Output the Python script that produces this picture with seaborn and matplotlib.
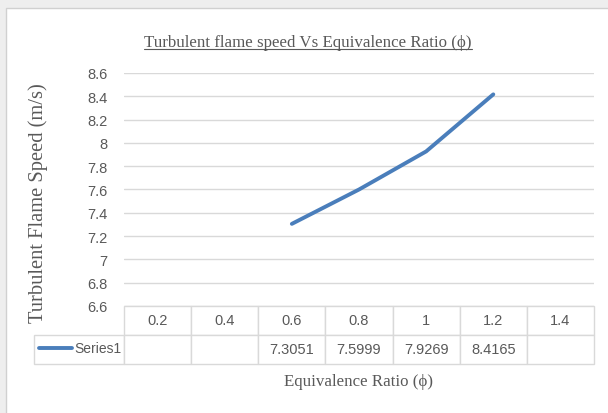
import matplotlib
matplotlib.use("Agg")
import matplotlib.pyplot as plt
from matplotlib.patches import Rectangle
from matplotlib.lines import Line2D
from matplotlib.table import Table
import seaborn as sns
import pandas as pd

# data
categories = ["0.2", "0.4", "0.6", "0.8", "1", "1.2", "1.4"]
x_vals = ["0.6", "0.8", "1", "1.2"]
speeds = [7.3051, 7.5999, 7.9269, 8.4165]
value_labels = ["7.3051", "7.5999", "7.9269", "8.4165"]
series_name = "Series1"
y_ticks = [6.6, 6.8, 7.0, 7.2, 7.4, 7.6, 7.8, 8.0, 8.2, 8.4, 8.6]
y_tick_labels = ["6.6", "6.8", "7", "7.2", "7.4", "7.6", "7.8", "8", "8.2", "8.4", "8.6"]

sns.set_theme(style="white")
sans = ["Liberation Sans Narrow", "Liberation Sans", "DejaVu Sans"]
serif = ["Liberation Serif", "DejaVu Serif"]
plt.rcParams["font.family"] = sans

grey = "#595959"
line_col = "#4a7ebb"
grid_col = "#d9d9d9"

W, H = 608, 414
fig = plt.figure(figsize=(W / 100, H / 100), dpi=100, facecolor="#eeeeee")

# chart frame
fig.patches.append(Rectangle((6 / W, -0.01), 1.02, 1 - 9 / H + 0.01,
                             transform=fig.transFigure, facecolor="white",
                             edgecolor="#d0d0d0", linewidth=1, zorder=-5))

ax = fig.add_axes([124 / W, 1 - 307 / H, 470 / W, 233 / H])
ax.set_facecolor("none")

df = pd.DataFrame({
    "x": [categories.index(c) for c in x_vals],
    "speed": speeds,
})
sns.lineplot(data=df, x="x", y="speed", ax=ax, color=line_col,
             linewidth=2.8, solid_capstyle="round", zorder=3)

ax.set_xlim(-0.5, len(categories) - 0.5)
ax.set_ylim(y_ticks[0], y_ticks[-1])
ax.set_yticks(y_ticks)
ax.set_yticklabels(y_tick_labels, color=grey, fontsize=10.5)
ax.set_xticks([])
ax.tick_params(axis="y", length=0, pad=12)
ax.yaxis.grid(True, color=grid_col, linewidth=1)
for s in ax.spines.values():
    s.set_visible(False)
ax.set_xlabel("")
ax.set_ylabel("")

# data table below the plot
tbl_h = 58 / 233
table = Table(ax, bbox=[0, -tbl_h, 1, tbl_h])
cw = 1 / len(categories)
for j, c in enumerate(categories):
    cell = table.add_cell(0, j, width=cw, height=0.5, text=c, loc="center")
    cell.set_edgecolor(grid_col)
    cell.get_text().set_color(grey)
vals = dict(zip(x_vals, value_labels))
for j, c in enumerate(categories):
    cell = table.add_cell(1, j, width=cw, height=0.5, text=vals.get(c, ""), loc="center")
    cell.set_edgecolor(grid_col)
    cell.get_text().set_color(grey)
lab = table.add_cell(1, -1, width=90 / 470, height=0.5, text="", loc="right")
lab.set_edgecolor(grid_col)
table.auto_set_font_size(False)
table.set_fontsize(10.5)
table.set_clip_on(False)
ax.add_table(table)

# legend key and series name in the row label cell
fig.add_artist(Line2D([39 / W, 72 / W], [1 - 349 / H, 1 - 349 / H],
                      transform=fig.transFigure, color=line_col,
                      linewidth=2.8, solid_capstyle="round"))
fig.text(74 / W, 1 - 349 / H, series_name, ha="left", va="center",
         color=grey, fontsize=10, family=sans)

# titles
title = fig.text(308 / W, 1 - 43 / H, "Turbulent flame speed Vs Equivalence Ratio (\u03d5)",
                 ha="center", va="center", color=grey, fontsize=12.2, family=serif)
fig.text(359 / W, 1 - 382 / H, "Equivalence Ratio (\u03d5)", ha="center", va="center",
         color=grey, fontsize=12.2, family=serif)
fig.text(38 / W, 1 - 203 / H, "Turbulent Flame Speed (m/s)", ha="center", va="center",
         rotation=90, color=grey, fontsize=14.8, family=serif)

# underline the title
fig.canvas.draw()
bb = title.get_window_extent(fig.canvas.get_renderer())
fig.add_artist(Line2D([bb.x0 / W, bb.x1 / W], [(bb.y0 + 1) / H, (bb.y0 + 1) / H],
                      transform=fig.transFigure, color=grey, linewidth=0.8))

fig.savefig("out.png", dpi=100, facecolor=fig.get_facecolor())
plt.close(fig)
